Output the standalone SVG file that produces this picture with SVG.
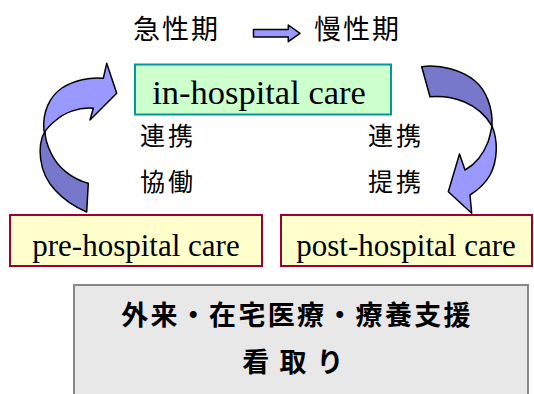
<svg xmlns="http://www.w3.org/2000/svg" width="534" height="394" viewBox="0 0 534 394">
<style>
.jp{font-family:"Noto Sans CJK JP","Noto Sans",sans-serif;fill:#000}
.en{font-family:"Liberation Serif","Times New Roman",serif;fill:#000}
.light{fill:#9999ff;stroke:#000;stroke-width:1.5;stroke-linejoin:round}
.dark{fill:#7777cc;stroke:#000;stroke-width:1.5;stroke-linejoin:round}
.yb{fill:#ffffcc;stroke:#990033;stroke-width:2}
</style>
<rect width="534" height="394" fill="#fff"/>
<g id="phase">
<text class="jp" x="133" y="39" font-size="27" letter-spacing="2">急性期</text>
<text class="jp" x="314" y="39" font-size="27" letter-spacing="2">慢性期</text>
</g>
<g id="in-hospital">
<rect x="135" y="64.5" width="256" height="50" fill="#ccffcc" stroke="#009999" stroke-width="2"/>
<text class="en" x="259" y="104" font-size="34.5" text-anchor="middle">in-hospital care</text>
</g>
<g id="pre-hospital">
<rect class="yb" x="10" y="215" width="252" height="51"/>
<text class="en" x="136" y="256" font-size="31" text-anchor="middle">pre-hospital care</text>
</g>
<g id="post-hospital">
<rect class="yb" x="281" y="215" width="251" height="51"/>
<text class="en" x="406" y="256" font-size="31" text-anchor="middle">post-hospital care</text>
</g>
<g id="community">
<rect x="74" y="285" width="454" height="115" fill="#e8e8e8" stroke="#888" stroke-width="2"/>
<text class="jp" x="297" y="325" font-size="27" font-weight="bold" letter-spacing="2.3" text-anchor="middle">外来・在宅医療・療養支援</text>
<text class="jp" x="294" y="372" font-size="27" font-weight="bold" letter-spacing="2" text-anchor="middle">看 取 り</text>
</g>
<g id="labels">
<text class="jp" x="140" y="145" font-size="25" letter-spacing="3">連携</text>
<text class="jp" x="140" y="191" font-size="25" letter-spacing="3">協働</text>
<text class="jp" x="368" y="145" font-size="25" letter-spacing="3">連携</text>
<text class="jp" x="368" y="191" font-size="25" letter-spacing="3">提携</text>
</g>
<g id="connectors">
<path class="light" d="M253.5,29.5 H288.3 V25 L300,33.3 L288.3,41.7 V37 H253.5 Z"/>
<path class="dark" d="M45,131 C37,145 38,172 55,190 C64,200 75,207 86.7,212 L88.3,183.3 C72,179 58,168 51,153 C47,145 45,138 45,131 Z"/>
<path class="light" d="M44,131 C42,112 50,96 62,88 C74,80 90,77 103.3,78.3 L106.7,63.3 L116.7,93.3 L90,120 L93.3,108.3 C78,107 64,113 55,121 C50,125 47,128 45,132 Z"/>
<path class="dark" d="M421.7,66.7 L430,96.7 C452,95 478,102 492,126 C493,108 486,90 475,81 C462,70 440,64 421.7,66.7 Z"/>
<path class="light" d="M492,126 C498,140 498,160 490,175 C485,184 478,190 470,195 L471.7,213.3 L448.3,191.7 L459.5,154 L465,170 C474,165 483,155 488,142 C490,136 491,131 492,126 Z"/>
</g>
</svg>
